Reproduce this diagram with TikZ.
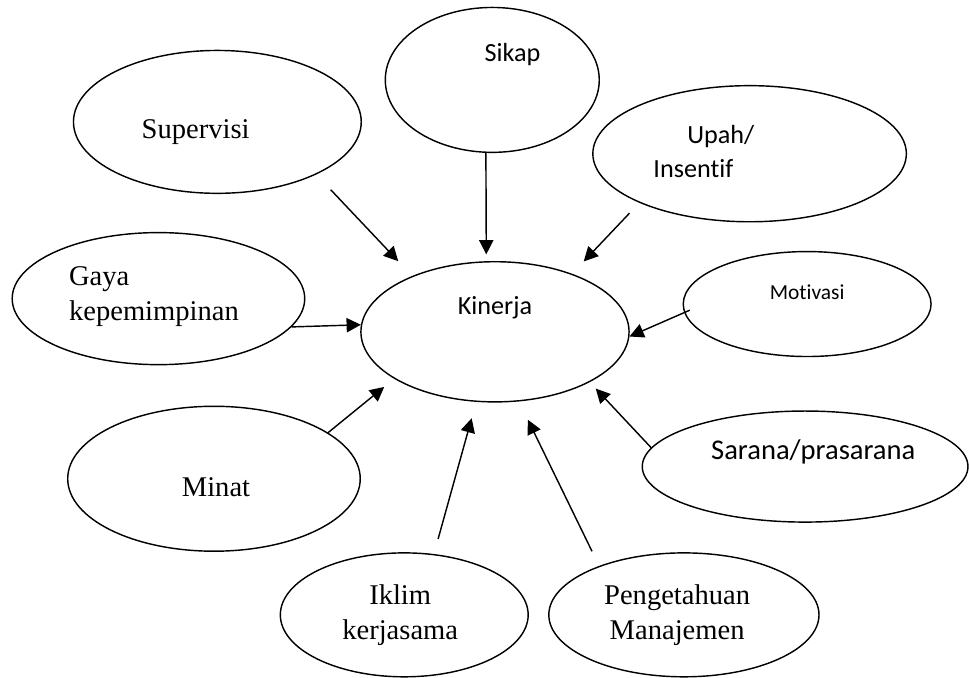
\documentclass[tikz,border=0pt]{standalone}
\usepackage{fontspec}
\setmainfont{Liberation Serif}
\newfontfamily\calibri[Ligatures=NoCommon]{Carlito}
\usetikzlibrary{arrows.meta,shapes}
\usetikzlibrary{positioning}
\tikzset{
	bubble/.style={
		ellipse,
		draw=black,
		inner sep=0pt,
	},
	tnr/.style={
		inner sep=0pt,
		font=\fontsize{12}{14.5}\selectfont,
	},
	cal/.style={
		inner sep=0pt,
		font=\calibri\fontsize{11}{14.5}\selectfont,
	},
}

\begin{document}
\begin{tikzpicture}[->,>={Triangle[length=6pt,width=6pt]},line width=0.6pt]
	
	\useasboundingbox (-7.31,-5.11) rectangle (7.00,4.90);
	
	\node[bubble, minimum width=3.96cm, minimum height=2.07cm] (KINERJA) at (0,0) {};
	
	\node[bubble, minimum width=3.16cm, minimum height=2.14cm,
	above left=3.72cm and 0.04cm of KINERJA.center,
	anchor=center] (SIKAP) {};
	
	\node[bubble, minimum width=4.25cm, minimum height=2.11cm,
	above left=3.10cm and 4.10cm of KINERJA.center,
	anchor=center] (SUPERVISI) {};
	
	\node[bubble, minimum width=4.63cm, minimum height=2.01cm,
	above right=2.63cm and 3.76cm of KINERJA.center,
	anchor=center] (UPAH) {};
	
	\node[bubble, minimum width=4.32cm, minimum height=1.95cm,
	above left=0.49cm and 4.97cm of KINERJA.center,
	anchor=center] (GAYA) {};
	
	\node[bubble, minimum width=3.66cm, minimum height=1.55cm,
	above right=0.41cm and 4.61cm of KINERJA.center,
	anchor=center] (MOTIVASI) {};
	
	\node[bubble, minimum width=4.32cm, minimum height=2.14cm,
	below left=2.17cm and 4.15cm of KINERJA.center,
	anchor=center] (MINAT) {};
	
	\node[bubble, minimum width=4.81cm, minimum height=1.64cm,
	below right=1.99cm and 4.58cm of KINERJA.center,
	anchor=center] (SARANA) {};
	
	\node[bubble, minimum width=3.66cm, minimum height=1.83cm,
	below left=4.18cm and 1.34cm of KINERJA.center,
	anchor=center] (IKLIM) {};
	
	\node[bubble, minimum width=3.99cm, minimum height=1.83cm,
	below right=4.18cm and 2.79cm of KINERJA.center,
	anchor=center] (PENGETAHUAN) {};
	
	% texts inside the ovals
	\node[cal, above=0.35cm of KINERJA.center, anchor=center] (KINERJAtxt) {Kinerja};
	\node[cal, above right=0.37cm and 0.30cm of SIKAP.center, anchor=center] (SIKAPtxt) {Sikap};
	\node[tnr, below left=0.15cm and 0.32cm of SUPERVISI.center, anchor=center] (SUPERVISItxt) {Supervisi};
	\node[cal, left=1.43cm of UPAH.center, anchor=west] (UPAHtxt)
	{
		\begin{tabular}{@{}l@{}}
		\hspace{0.50cm}Upah/\\
		Insentif
		\end{tabular}
	};
	\node[tnr, above left=0.04cm and 1.33cm of GAYA.center, anchor=west] (GAYAtxt)
	{
		\begin{tabular}{@{}l@{}}
		Gaya\\
		kepemimpinan
		\end{tabular}
	};
	\node[cal, font=\calibri\fontsize{9}{11}\selectfont,
	above=0.18cm of MOTIVASI.center, anchor=center] (MOTIVASItxt) {Motivasi};
	\node[tnr, below right=0.13cm and 0.03cm of MINAT.center, anchor=center] (MINATtxt) {Minat};
	\node[cal, font=\calibri\fontsize{12}{14.5}\selectfont,
	above right=0.21cm and 0.12cm of SARANA.center, anchor=center] (SARANAtxt) {Sarana/prasarana};
	\node[tnr, left=0.06cm of IKLIM.center, anchor=center] (IKLIMtxt)
	{
		\begin{tabular}{@{}c@{}}
		Iklim\\
		kerjasama
		\end{tabular}
	};
	\node[tnr, left=0.10cm of PENGETAHUAN.center, anchor=center] (PENGETAHUANtxt)
	{
		\begin{tabular}{@{}c@{}}
		Pengetahuan\\
		Manajemen
		\end{tabular}
	};
	
	\path
	(SUPERVISI.-28) edge[shorten <=0.31cm, shorten >=0.30cm] (KINERJA.146)
	(SIKAP.-95) edge[shorten >=0.10cm] (KINERJA.97)
	(UPAH.-156) edge[shorten <=0.21cm, shorten >=0.25cm] (KINERJA.37)
	(GAYA.-12) edge (KINERJA.177)
	(MOTIVASI.184) edge[shorten <=-0.09cm] (KINERJA.-2)
	(MINAT.22) edge[shorten >=0.19cm] (KINERJA.-155)
	(IKLIM.64) edge[shorten <=0.23cm, shorten >=0.25cm] (KINERJA.-105)
	(PENGETAHUAN.150) edge[shorten <=0.24cm, shorten >=0.30cm] (KINERJA.-71)
	(SARANA.173) edge[shorten >=0.13cm] (KINERJA.-28);
	
\end{tikzpicture}
\end{document}
